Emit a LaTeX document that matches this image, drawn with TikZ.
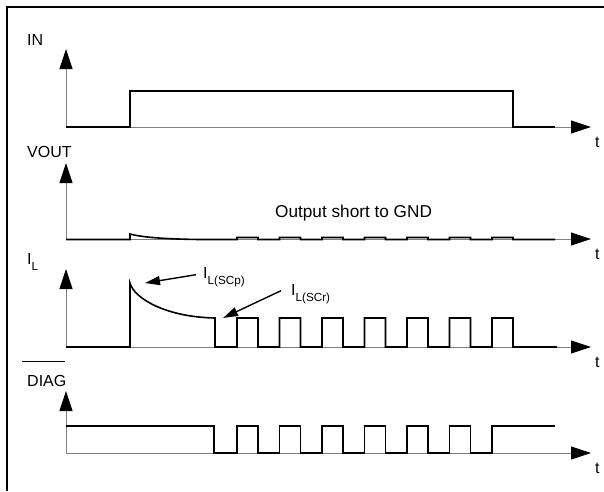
\documentclass[tikz,border=0pt]{standalone}
\usepackage{fontspec}
\setmainfont{Liberation Sans}
\usetikzlibrary{arrows.meta}

\tikzset{
    asse/.style={gray, line width=0.9pt, -{Triangle[length=20pt,width=13pt,color=black]}},
    segnale/.style={black, line width=1.6pt, line join=miter},
    etichetta/.style={inner sep=0pt, anchor=base west, font=\fontsize{16}{19}\selectfont},
    freccia/.style={black, line width=1.4pt, -{Triangle[length=15pt,width=9pt]}}
}
\newcommand{\Ipedice}[1]{I\raisebox{-6pt}{\fontsize{11.7}{14}\selectfont #1}}

\begin{document}
\begin{tikzpicture}[x=1pt, y=-1pt]
    \useasboundingbox (0,0) rectangle (604,491);
    %cornice
    \draw[line width=1.4pt] (7,491) -- (7,7) -- (604,7);

    %disegno assi
    \foreach \b/\c [count=\n] in {127/49, 239/163, 347/269, 453/391} {
        \draw[asse] (66,\b) -- (591,\b);
        \draw[asse] (66,\b) -- (66,\c);
        \node[etichetta] (t\n) at (595,\b+20) {t};
    }

    %nomi dei segnali
    \node[etichetta] (in) at (27,45) {IN};
    \node[etichetta] (vout) at (27,157) {VOUT};
    \node[etichetta] (il) at (27,264) {\Ipedice{L}};
    \node[etichetta] (diag) at (27,386) {DIAG};
    \draw[line width=1pt] (22,361) -- (65,361);

    %segnale IN
    \draw[segnale] (66,127) -- (130,127) -- (130,91) -- (513,91) -- (513,127) -- (555,127);

    %segnale VOUT
    \draw[segnale] (66,239.5) -- (130,239.5) -- (130,234)
        .. controls (140,236.8) and (160,239) .. (200,239.5) -- (237,239.5)
        \foreach \x in {237,279.5,322,364.5,407,449.5,492} {
            -- (\x,239.5) -- (\x,237.5) -- (\x+21,237.5) -- (\x+21,239.5)
        } -- (555,239.5);
    \node[etichetta, font=\fontsize{17.2}{20}\selectfont] (corto) at (275,217) {Output short to GND};

    %segnale IL
    \draw[segnale] (66,347) -- (130,347) -- (130,283)
        .. controls (134,298) and (165,317) .. (215,318) -- (215,347)
        \foreach \x in {237,279.5,322,364.5,407,449.5,492} {
            -- (\x,347) -- (\x,318) -- (\x+21,318) -- (\x+21,347)
        } -- (557,347);

    %correnti di corto circuito
    \node[etichetta] (scp) at (203,278) {\Ipedice{L(SCp)}};
    \node[etichetta] (scr) at (291,295) {\Ipedice{L(SCr)}};
    \coordinate (picco) at (145,283);
    \coordinate (ripet) at (223,318);
    \draw[freccia] ([xshift=-7pt,yshift=2pt]scp.west) -- (picco);
    \draw[freccia] ([xshift=-10pt,yshift=3pt]scr.west) -- (ripet);

    %segnale DIAG
    \draw[segnale] (66,426) -- (214,426) -- (214,453)
        \foreach \x in {237,279.5,322,364.5,407,449.5} {
            -- (\x,453) -- (\x,426) -- (\x+21,426) -- (\x+21,453)
        } -- (492,453) -- (492,426) -- (555,426);
\end{tikzpicture}
\end{document}
